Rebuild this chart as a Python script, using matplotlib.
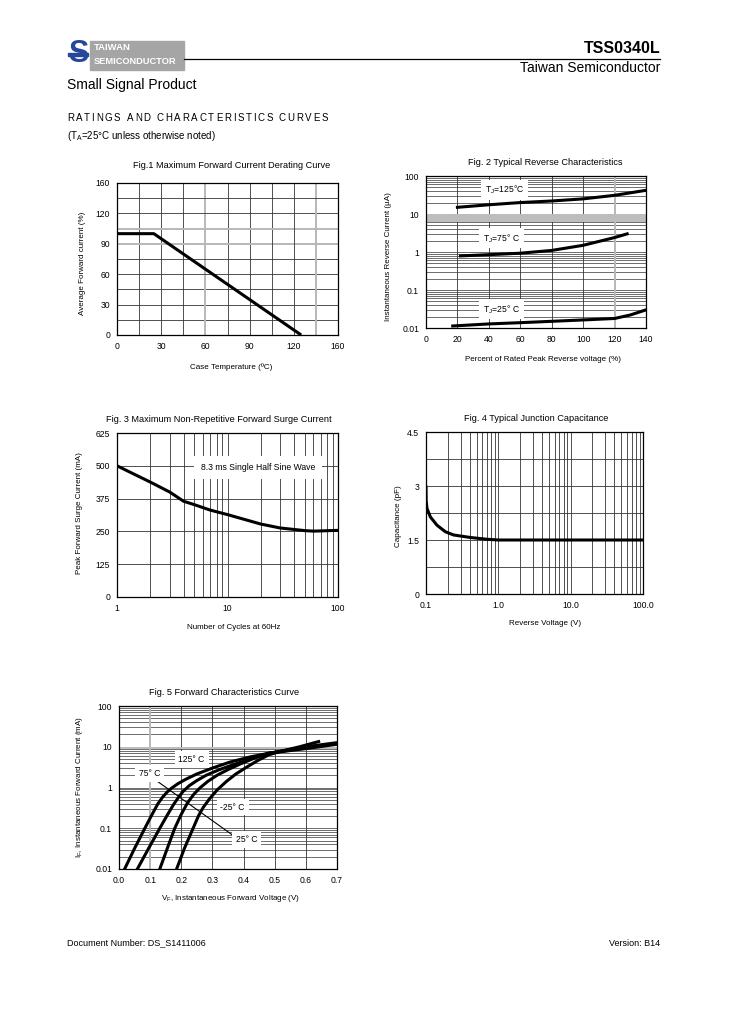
import matplotlib
matplotlib.use('Agg')
import numpy as np
import matplotlib.pyplot as plt
from matplotlib.patches import Rectangle

plt.rcParams['font.family'] = ['Liberation Sans', 'DejaVu Sans']
plt.rcParams['mathtext.fontset'] = 'custom'
plt.rcParams['mathtext.rm'] = 'Liberation Sans'
plt.rcParams['mathtext.it'] = 'Liberation Sans:italic'
plt.rcParams['mathtext.bf'] = 'Liberation Sans:bold'

W, H = 729, 1032

# Fig.1 derating curve
derate_temp = [0, 25, 125]
derate_pct = [100, 100, 0]
fig1_ticks = [0, 30, 60, 90, 120, 150]
fig1_ticklabels = ['0', '30', '60', '90', '120', '160']

# Fig.2 reverse characteristics (uA)
rev_pct_125 = [20, 40, 60, 80, 100, 120, 140]
rev_ua_125 = [15, 17.5, 20, 22, 25, 31, 42]
rev_pct_75 = [22, 40, 60, 80, 100, 120, 128]
rev_ua_75 = [0.79, 0.85, 0.93, 1.1, 1.5, 2.4, 3.0]
rev_pct_25 = [17, 40, 60, 80, 100, 120, 130, 140]
rev_ua_25 = [0.0113, 0.0128, 0.0138, 0.015, 0.0163, 0.0178, 0.022, 0.030]
fig2_xticks = [0, 20, 40, 60, 80, 100, 120, 140]
fig2_yticks = [0.01, 0.1, 1, 10, 100]
fig2_yticklabels = ['0.01', '0.1', '1', '10', '100']

# Fig.3 surge current (mA)
surge_cycles = [1, 2, 3, 4, 5, 7, 10, 20, 30, 50, 60, 100]
surge_ma = [500, 438, 400, 365, 352, 331, 314, 278, 263, 253, 251, 254]
fig3_yticks = [0, 125, 250, 375, 500, 625]

# Fig.4 junction capacitance (pF)
cap_v = [0.1, 0.1005, 0.103, 0.115, 0.142, 0.185, 0.24, 0.41, 0.7, 1.0, 10, 100]
cap_pf = [2.97, 2.6, 2.38, 2.14, 1.91, 1.73, 1.64, 1.57, 1.52, 1.5, 1.5, 1.5]
fig4_yticks = [0, 1.5, 3, 4.5]
fig4_yticklabels = ['0', '1.5', '3', '4.5']
fig4_xticks = [0.1, 1, 10, 100]
fig4_xticklabels = ['0.1', '1.0', '10.0', '100.0']

# Fig.5 forward characteristics (mA)
fwd_v_125 = [0.018, 0.05, 0.083, 0.105, 0.125, 0.14, 0.155, 0.17, 0.19, 0.215, 0.25, 0.3,
             0.356, 0.42, 0.48, 0.6, 0.7]
fwd_ma_125 = [0.01, 0.032, 0.1, 0.21, 0.4, 0.58, 0.78, 0.98, 1.25, 1.6, 2.15, 3.0,
              4.2, 5.6, 6.9, 9.0, 11.5]
fwd_v_75 = [0.059, 0.095, 0.131, 0.155, 0.175, 0.19, 0.205, 0.225, 0.25, 0.28, 0.32, 0.37,
            0.42, 0.48, 0.6, 0.7]
fwd_ma_75 = [0.01, 0.032, 0.1, 0.21, 0.38, 0.56, 0.79, 1.1, 1.48, 2.0, 2.7, 3.7,
             5.0, 6.9, 9.5, 12.0]
fwd_v_25 = [0.131, 0.155, 0.179, 0.2, 0.22, 0.24, 0.26, 0.285, 0.315, 0.35, 0.39, 0.435,
            0.48, 0.6, 0.7]
fwd_ma_25 = [0.01, 0.032, 0.1, 0.22, 0.42, 0.68, 0.98, 1.41, 2.0, 2.75, 3.8, 5.25,
             6.9, 10.0, 12.6]
fwd_v_m25 = [0.185, 0.21, 0.238, 0.255, 0.27, 0.29, 0.315, 0.345, 0.375, 0.41, 0.445, 0.48,
             0.52, 0.58, 0.641]
fwd_ma_m25 = [0.01, 0.032, 0.1, 0.2, 0.32, 0.52, 0.87, 1.41, 2.14, 3.16, 4.57, 6.3,
              7.76, 10.0, 13.4]
fig5_xticks = [0.0, 0.1, 0.2, 0.3, 0.4, 0.5, 0.6, 0.7]
fig5_yticks = [0.01, 0.1, 1, 10, 100]
fig5_yticklabels = ['0.01', '0.1', '1', '10', '100']

GRID = '0.2'
LIGHT = '0.72'
CURVE_LW = 2.2
TICK_FS = 6.2
LABEL_FS = 5.8
TITLE_FS = 6.6


def px_axes(fig, left, top, right, bottom):
    """Axes placed by pixel box of the page."""
    return fig.add_axes([left / W, 1 - bottom / H, (right - left) / W, (bottom - top) / H])


def style_axes(ax):
    for s in ax.spines.values():
        s.set_color('black')
        s.set_linewidth(0.9)
        s.set_zorder(5)
    ax.tick_params(length=0, labelsize=TICK_FS, pad=5)


def ptext(fig, x, y, s, **kw):
    return fig.text(x / W, 1 - y / H, s, **kw)


def spaced_text(fig, x, y, s, size, gap):
    """Letter spaced text, one glyph at a time."""
    r = fig.canvas.get_renderer()
    space = 0.278 * size * fig.dpi / 72
    for ch in s:
        if ch == ' ':
            x += space + gap
            continue
        t = ptext(fig, x, y, ch, fontsize=size, va='center', ha='left')
        x += t.get_window_extent(renderer=r).width + gap


def log_hgrid(ax, lo_exp, hi_exp):
    for e in range(lo_exp, hi_exp):
        for m in range(1, 10):
            ax.axhline(m * 10.0 ** e, color=GRID, lw=0.5, zorder=1)


def log_vgrid(ax, lo_exp, hi_exp):
    for e in range(lo_exp, hi_exp):
        for m in range(1, 10):
            ax.axvline(m * 10.0 ** e, color=GRID, lw=0.6, zorder=1)


def box_label(ax, x, y, s, fs=TICK_FS):
    ax.text(x, y, s, fontsize=fs, ha='center', va='center', zorder=4,
            bbox=dict(boxstyle='square,pad=0.45', fc='white', ec='none'))


def main():
    fig = plt.figure(figsize=(W / 100, H / 100), dpi=100)

    # ---- page header ----
    ptext(fig, 78, 54, 'S', fontsize=22, fontweight='bold', color='#27479b', ha='center', va='center')
    fig.patches.append(Rectangle((68 / W, 1 - 56 / H), 20 / W, 2.5 / H, transform=fig.transFigure,
                                 color='#27479b'))
    fig.patches.append(Rectangle((90 / W, 1 - 70 / H), 94 / W, 29 / H, transform=fig.transFigure,
                                 color='#a5a5a5'))
    ptext(fig, 94, 48, 'TAIWAN', fontsize=6.8, fontweight='bold', color='white', va='center')
    ptext(fig, 94, 61, 'SEMICONDUCTOR', fontsize=6.7, fontweight='bold', color='white', va='center')
    fig.add_artist(plt.Line2D([184 / W, 660 / W], [1 - 59 / H, 1 - 59 / H], color='black', lw=0.9))
    ptext(fig, 660, 48.5, 'TSS0340L', fontsize=11.5, fontweight='bold', ha='right', va='center')
    ptext(fig, 660, 68, 'Taiwan Semiconductor', fontsize=10, ha='right', va='center')
    ptext(fig, 67, 85, 'Small Signal Product', fontsize=10, ha='left', va='center')
    spaced_text(fig, 67, 118, 'RATINGS AND CHARACTERISTICS CURVES', 7, 1.75)
    ptext(fig, 67, 136, r'(T$_\mathregular{A}$=25°C unless otherwise noted)', fontsize=7, va='center')

    # ---- Fig.1 ----
    ax = px_axes(fig, 117, 183, 338, 335)
    for v in np.arange(15, 150, 15):
        light = v in (60, 135)
        ax.axvline(v, color=LIGHT if light else GRID, lw=1.4 if light else 0.6, zorder=1)
        light = v in (90, 105)
        ax.axhline(v, color=LIGHT if light else GRID, lw=1.4 if light else 0.6, zorder=1)
    ax.plot(derate_temp, derate_pct, color='black', lw=CURVE_LW, zorder=3, solid_capstyle='butt')
    ax.set_xlim(0, 150)
    ax.set_ylim(0, 150)
    ax.set_xticks(fig1_ticks, fig1_ticklabels)
    ax.set_yticks(fig1_ticks, fig1_ticklabels)
    style_axes(ax)
    ax.set_xlabel('Case Temperature (ºC)', fontsize=LABEL_FS, labelpad=9, x=0.515)
    ax.set_ylabel('Average Forward current (%)', fontsize=LABEL_FS, labelpad=7, y=0.47)
    ax.set_title('Fig.1 Maximum Forward Current Derating Curve', fontsize=TITLE_FS, pad=11, x=0.52)

    # ---- Fig.2 ----
    ax = px_axes(fig, 426, 176, 646, 328)
    ax.set_yscale('log')
    log_hgrid(ax, -2, 2)
    for v in [20, 40, 60, 80, 100, 120]:
        ax.axvline(v, color=LIGHT if v == 120 else GRID, lw=1.4 if v == 120 else 0.6, zorder=1)
    ax.axhspan(6.2, 10, color='0.74', lw=0, zorder=1.5)
    ax.plot(rev_pct_125, rev_ua_125, color='black', lw=CURVE_LW, zorder=3)
    ax.plot(rev_pct_75, rev_ua_75, color='black', lw=CURVE_LW, zorder=3)
    ax.plot(rev_pct_25, rev_ua_25, color='black', lw=CURVE_LW, zorder=3)
    box_label(ax, 50, 43, r'T$_\mathregular{J}$=125°C')
    box_label(ax, 48, 2.3, r'T$_\mathregular{J}$=75° C')
    box_label(ax, 48, 0.031, r'T$_\mathregular{J}$=25° C')
    ax.set_xlim(0, 140)
    ax.set_ylim(0.01, 100)
    ax.set_xticks(fig2_xticks)
    ax.set_yticks(fig2_yticks, fig2_yticklabels)
    ax.minorticks_off()
    style_axes(ax)
    ax.set_xlabel('Percent of Rated Peak Reverse voltage (%)', fontsize=LABEL_FS, labelpad=9, x=0.53)
    ax.set_ylabel('Instantaneous Reverse Current (µA)', fontsize=LABEL_FS, labelpad=7, y=0.47)
    ax.set_title('Fig. 2 Typical Reverse Characteristics', fontsize=TITLE_FS, pad=8, x=0.54)

    # ---- Fig.3 ----
    ax = px_axes(fig, 117, 433, 338, 597)
    ax.set_xscale('log')
    log_vgrid(ax, 0, 2)
    for v in fig3_yticks[1:-1]:
        ax.axhline(v, color=GRID, lw=0.6, zorder=1)
    ax.plot(surge_cycles, surge_ma, color='black', lw=CURVE_LW, zorder=3)
    ax.text(19, 495, '8.3 ms Single Half Sine Wave', fontsize=TICK_FS, ha='center', va='center', zorder=4,
            bbox=dict(boxstyle='square,pad=0.8', fc='white', ec='none'))
    ax.set_xlim(1, 100)
    ax.set_ylim(0, 625)
    ax.set_xticks([1, 10, 100], ['1', '10', '100'])
    ax.set_yticks(fig3_yticks)
    ax.minorticks_off()
    style_axes(ax)
    ax.set_xlabel('Number of Cycles at 60Hz', fontsize=LABEL_FS, labelpad=8, x=0.53)
    ax.set_ylabel('Peak Forward Surge Current (mA)', fontsize=LABEL_FS, labelpad=9, y=0.51)
    ax.set_title('Fig. 3 Maximum Non-Repetitive Forward Surge Current', fontsize=TITLE_FS, pad=8, x=0.46)

    # ---- Fig.4 ----
    ax = px_axes(fig, 426, 432, 643, 594)
    ax.set_xscale('log')
    log_vgrid(ax, -1, 2)
    for v in np.arange(0.75, 4.5, 0.75):
        ax.axhline(v, color=GRID, lw=0.6, zorder=1)
    ax.plot(cap_v, cap_pf, color='black', lw=CURVE_LW, zorder=3)
    ax.set_xlim(0.1, 100)
    ax.set_ylim(0, 4.5)
    ax.set_xticks(fig4_xticks, fig4_xticklabels)
    ax.set_yticks(fig4_yticks, fig4_yticklabels)
    ax.minorticks_off()
    style_axes(ax)
    ax.set_xlabel('Reverse Voltage (V)', fontsize=LABEL_FS, labelpad=7, x=0.55)
    ax.set_ylabel('Capacitance (pF)', fontsize=LABEL_FS, labelpad=4, y=0.48)
    ax.set_title('Fig. 4 Typical Junction Capacitance', fontsize=TITLE_FS, pad=8, x=0.51)

    # ---- Fig.5 ----
    ax = px_axes(fig, 119, 706, 337, 869)
    ax.set_yscale('log')
    log_hgrid(ax, -2, 2)
    for v in fig5_xticks[1:-1]:
        ax.axvline(v, color=LIGHT if v == 0.1 else GRID, lw=1.4 if v == 0.1 else 0.6, zorder=1)
    ax.axhspan(8.6, 10, color='0.74', lw=0, zorder=1.5)
    for vv, ii in [(fwd_v_125, fwd_ma_125), (fwd_v_75, fwd_ma_75),
                   (fwd_v_25, fwd_ma_25), (fwd_v_m25, fwd_ma_m25)]:
        ax.plot(vv, ii, color='black', lw=CURVE_LW, zorder=3)
    ax.plot([0.1, 0.367], [1.9, 0.066], color='black', lw=0.8, zorder=3.5)
    box_label(ax, 0.233, 4.8, '125° C')
    box_label(ax, 0.099, 2.25, '75° C')
    box_label(ax, 0.365, 0.33, '-25° C')
    box_label(ax, 0.41, 0.054, '25° C')
    ax.set_xlim(0, 0.7)
    ax.set_ylim(0.01, 100)
    ax.set_xticks(fig5_xticks, [f'{v:.1f}' for v in fig5_xticks])
    ax.set_yticks(fig5_yticks, fig5_yticklabels)
    ax.minorticks_off()
    style_axes(ax)
    ax.set_xlabel(r'V$_\mathregular{F}$, Instantaneous Forward Voltage (V)', fontsize=LABEL_FS,
                  labelpad=6, x=0.51)
    ax.set_ylabel(r'I$_\mathregular{F}$, Instantaneous Forward Current (mA)', fontsize=LABEL_FS,
                  labelpad=7, y=0.506)
    ax.set_title('Fig. 5 Forward Characteristics Curve', fontsize=TITLE_FS, pad=8, x=0.48)

    # ---- footer ----
    ptext(fig, 67, 943, 'Document Number: DS_S1411006', fontsize=6.5, va='center')
    ptext(fig, 660, 943, 'Version: B14', fontsize=6.5, va='center', ha='right')

    fig.savefig('out.png', dpi=100)
    plt.close(fig)


if __name__ == '__main__':
    main()
